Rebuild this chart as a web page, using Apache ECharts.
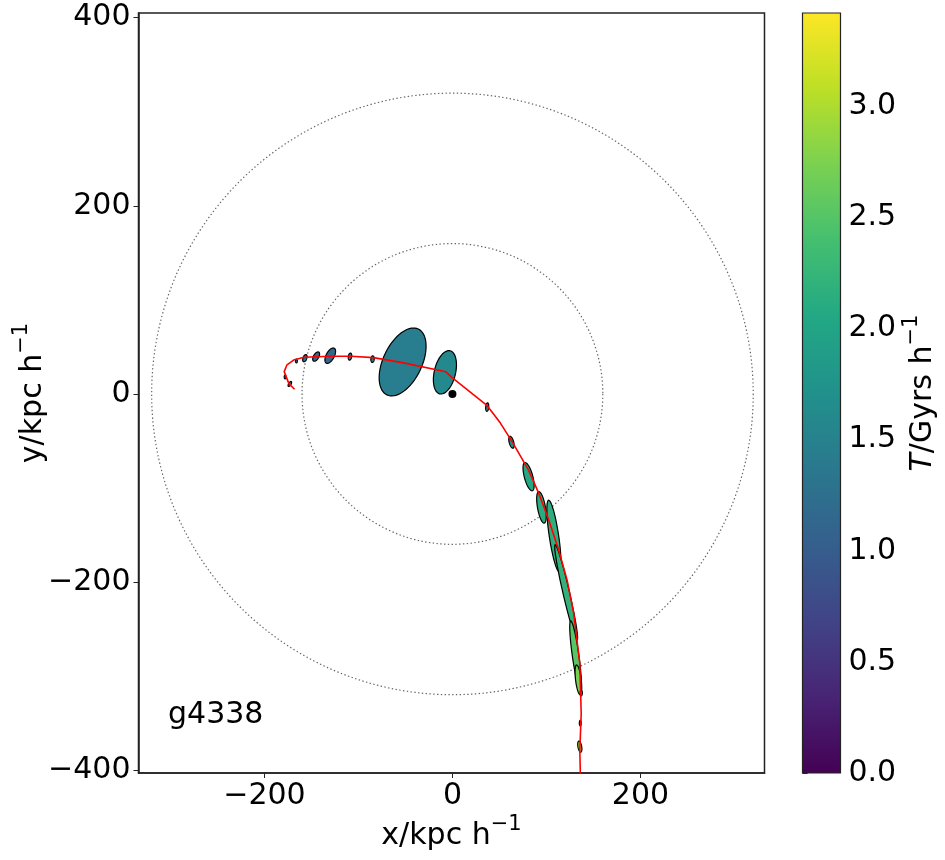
<!DOCTYPE html>
<html>
<head>
<meta charset="utf-8">
<script src="https://cdn.jsdelivr.net/npm/echarts@6/dist/echarts.min.js"></script>
<style>
  html, body { margin: 0; padding: 0; background: #fff; }
  #chart { width: 945px; height: 860px; }
</style>
</head>
<body>
<div id="chart"></div>
<script>
  // orbit track of the satellite (kpc/h)
  const trackX = [-168, -174, -179, -176, -169, -158, -130, -108, -84, -52, -7, 0, 37, 51, 63.5, 81, 92, 102.5, 113, 122, 129, 135.5, 137, 135.5, 136, 136]
  const trackY = [5, 11, 23.7, 31, 36, 39, 40, 40, 38.6, 33, 23.5, 17, -12.5, -31, -50.7, -81, -106, -134, -166, -198, -233, -286.5, -340, -379, -400, -420]

  // ellipses: centre, semi axes, angle of major axis (deg), time
  const ellX = [-173, -178, -166, -157, -145, -130, -109, -85, -53, -8, 37, 62.8, 81, 94.7, 108, 121, 131, 134, 137, 136, 135.5]
  const ellY = [10.6, 18, 35, 38, 39.7, 40.7, 39.7, 37, 34, 23, -14, -51.4, -88, -120.6, -151, -211, -278, -304, -318, -350, -375]
  const ellA = [3, 2, 2, 4, 5.5, 9, 3.8, 3.5, 38.8, 23.6, 4.5, 6.5, 15.5, 17, 38.5, 52, 37, 16, 3, 3, 6]
  const ellB = [1.3, 1, 1, 2, 2.8, 4.3, 1.8, 1.8, 20.6, 11.3, 1.6, 2.4, 4.5, 4.2, 5, 3.5, 3.5, 3, 1.2, 1, 2]
  const ellAng = [60, 90, 90, 70, 60, 62, 80, 85, 64.6, 76.5, 85, 105, 105, 100, 98.5, 103, 98, 97, 90, 90, 100]
  const ellT = [1.3, 1.3, 1.3, 1.25, 1.2, 1.15, 1.3, 1.35, 1.45, 1.6, 1.5, 1.7, 2.05, 2.1, 2.15, 2.2, 2.5, 2.7, 2.0, 2.2, 3.0]

  // reference radii (kpc/h)
  const circleR = [160, 320]

  const xTicks = [-200, 0, 200]
  const yTicks = [-400, -200, 0, 200, 400]
  const cbTicks = [0, 0.5, 1.0, 1.5, 2.0, 2.5, 3.0]
  const cbMax = 3.42

  const viridis = ['#440154', '#482475', '#414487', '#355f8d', '#2a788e', '#21918c', '#22a884', '#44bf70', '#7ad151', '#bddf26', '#fde725']

  const fmt = v => (v < 0 ? '\u2212' + Math.abs(v) : '' + v)
  const font = 'DejaVu Sans'
  const axisColor = '#222'

  // label text style with a raised "-1" exponent
  const nameRich = {
    n: { fontSize: 30, lineHeight: 44, color: '#000', fontFamily: font },
    i: { fontSize: 30, lineHeight: 44, fontStyle: 'italic', color: '#000', fontFamily: font },
    s: { fontSize: 21, lineHeight: 21, verticalAlign: 'top', color: '#000', fontFamily: font }
  }

  const ellData = ellX.map((x, i) => [x, ellY[i], ellA[i], ellB[i], ellAng[i], ellT[i]])
  const trackData = trackX.map((x, i) => [x, trackY[i]])

  const chart = echarts.init(document.getElementById('chart'), null, { renderer: 'canvas' })

  const option = {
    animation: false,
    backgroundColor: '#fff',
    textStyle: { fontFamily: font },
    grid: [
      { left: 138.5, top: 13, width: 626, height: 760, outerBoundsMode: 'none', containLabel: false, show: true, borderColor: axisColor, borderWidth: 1.5, backgroundColor: 'transparent' },
      { left: 802.5, top: 13, width: 38, height: 760, outerBoundsMode: 'none', containLabel: false, show: false }
    ],
    xAxis: [
      {
        gridIndex: 0, type: 'value', min: -334, max: 332,
        name: '{n|x/kpc h}{s|\u22121}', nameLocation: 'middle', nameGap: 41, nameMoveOverlap: false,
        nameTextStyle: { fontSize: 30, lineHeight: 44, color: '#000', fontFamily: font, rich: nameRich },
        axisLine: { show: true, onZero: false, lineStyle: { color: axisColor, width: 1.5 } },
        axisTick: { show: true, length: 5, lineStyle: { color: axisColor }, customValues: xTicks },
        axisLabel: { fontSize: 30, color: '#000', margin: 8, formatter: fmt, customValues: xTicks },
        splitLine: { show: false }
      },
      { gridIndex: 1, type: 'value', min: 0, max: 1, show: false }
    ],
    yAxis: [
      {
        gridIndex: 0, type: 'value', min: -403, max: 405,
        name: '{n|y/kpc h}{s|\u22121}', nameLocation: 'middle', nameGap: 83, nameRotate: 90, nameMoveOverlap: false,
        nameTextStyle: { fontSize: 30, lineHeight: 44, color: '#000', fontFamily: font, rich: nameRich },
        axisLine: { show: true, onZero: false, lineStyle: { color: axisColor, width: 1.5 } },
        axisTick: { show: true, length: 5, lineStyle: { color: axisColor }, customValues: yTicks },
        axisLabel: { fontSize: 30, color: '#000', margin: 8, formatter: fmt, customValues: yTicks },
        splitLine: { show: false }
      },
      {
        gridIndex: 1, type: 'value', min: 0, max: cbMax, position: 'right',
        name: '{i|T}{n|/Gyrs h}{s|\u22121}', nameLocation: 'middle', nameGap: 61, nameRotate: 90, nameMoveOverlap: false,
        nameTextStyle: { fontSize: 30, lineHeight: 44, color: '#000', fontFamily: font, rich: nameRich },
        axisLine: { show: false },
        axisTick: { show: true, length: 5, lineStyle: { color: axisColor }, customValues: cbTicks },
        axisLabel: { fontSize: 30, color: '#000', margin: 8, formatter: v => v.toFixed(1), customValues: cbTicks },
        splitLine: { show: false }
      }
    ],
    visualMap: {
      type: 'continuous', show: false, min: 0, max: cbMax, dimension: 5, seriesIndex: 1,
      inRange: { color: viridis }
    },
    graphic: [
      { type: 'text', left: 168, top: 700, style: { text: 'g4338', fontSize: 30, fontFamily: font, fill: '#000' }, z: 100 }
    ],
    series: [
      {
        // dotted reference circles
        type: 'custom', xAxisIndex: 0, yAxisIndex: 0, clip: true, silent: true, z: 1,
        data: circleR.map(r => [0, 0, r]),
        renderItem: (params, api) => {
          const c = api.coord([api.value(0), api.value(1)])
          const r = api.size([api.value(2), 0])[0]
          return {
            type: 'circle',
            shape: { cx: c[0], cy: c[1], r: r },
            style: { fill: 'none', stroke: '#666', lineWidth: 1.2, lineDash: [1.4, 2.4] }
          }
        }
      },
      {
        // ellipses coloured by time
        type: 'custom', xAxisIndex: 0, yAxisIndex: 0, clip: true, z: 2,
        data: ellData,
        renderItem: (params, api) => {
          const c = api.coord([api.value(0), api.value(1)])
          const a = api.size([api.value(2), 0])[0]
          const b = api.size([api.value(3), 0])[0]
          const th = api.value(4) * Math.PI / 180
          const pts = []
          for (let k = 0; k < 72; k++) {
            const t = k / 72 * Math.PI * 2
            const ex = a * Math.cos(t)
            const ey = b * Math.sin(t)
            pts.push([c[0] + ex * Math.cos(th) - ey * Math.sin(th), c[1] - (ex * Math.sin(th) + ey * Math.cos(th))])
          }
          return {
            type: 'polygon',
            shape: { points: pts },
            style: { fill: api.visual('color'), stroke: '#000', lineWidth: 1.2 }
          }
        }
      },
      {
        type: 'line', xAxisIndex: 0, yAxisIndex: 0, data: trackData, showSymbol: false, symbol: 'none',
        lineStyle: { color: '#ff0000', width: 1.6 }, z: 3, silent: true
      },
      {
        type: 'scatter', xAxisIndex: 0, yAxisIndex: 0, data: [[0, 0]], symbolSize: 8,
        itemStyle: { color: '#000', opacity: 1 }, z: 4, silent: true
      },
      {
        // colour bar
        type: 'custom', xAxisIndex: 1, yAxisIndex: 1, silent: true, z: 1,
        data: [[0, 0, 1, cbMax]],
        renderItem: (params, api) => {
          const p0 = api.coord([api.value(0), api.value(1)])
          const p1 = api.coord([api.value(2), api.value(3)])
          return {
            type: 'rect',
            shape: { x: p0[0], y: p1[1], width: p1[0] - p0[0], height: p0[1] - p1[1] },
            style: {
              fill: new echarts.graphic.LinearGradient(0, 1, 0, 0, viridis.map((col, i) => ({ offset: i / (viridis.length - 1), color: col }))),
              stroke: axisColor, lineWidth: 1.2
            }
          }
        }
      }
    ]
  }

  chart.setOption(option)
</script>
</body>
</html>
